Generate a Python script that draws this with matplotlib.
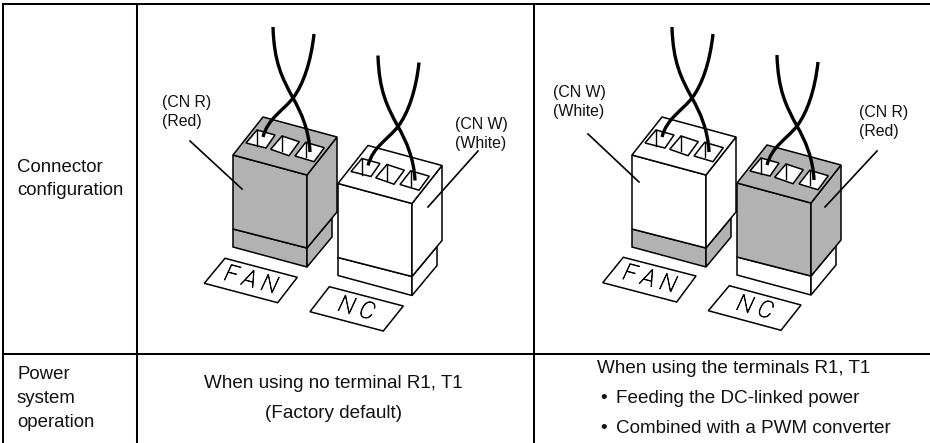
import matplotlib
matplotlib.use('Agg')
import matplotlib.pyplot as plt
import matplotlib.patheffects as pe
from matplotlib.patches import Polygon, PathPatch
from matplotlib.path import Path

GREY = '#b2b2b2'
WHITE = '#ffffff'
FONT = 'Liberation Sans'

# table grid, in pixels of the reference
grid_x = [3, 137, 534]
grid_top = 4
grid_mid = 354
grid_bottom = 443
grid_right = 930

# one connector, drawn for the left red one
top_face = [(263, 117), (337, 137), (307, 175), (233, 155)]
upper_front = [(233, 155), (307, 175), (307, 248), (233, 229)]
upper_side = [(307, 175), (337, 137), (337, 212), (307, 248)]
lower_front = [(233, 229), (307, 248), (307, 267), (233, 247)]
lower_side = [(307, 248), (332, 218), (332, 237), (307, 267)]
slots = [
    [(257, 130), (275, 135), (266, 148), (246, 143)],
    [(282, 136), (299.3, 141.7), (289, 155.7), (270.7, 149.3)],
    [(305.7, 142.3), (324.3, 147.7), (314, 161.7), (295, 156)],
]
slot_ticks = [
    [(257, 130), (257, 146)],
    [(282, 136), (282, 151)],
    [(305.7, 142.3), (305.7, 157)],
]
wire_a = [(273, 27), (274, 62), (282, 78), (293, 98), (301, 112), (309, 130), (310, 152)]
wire_b = [(314, 34), (311, 62), (303, 85), (293, 98), (283, 111), (268, 118), (263, 137)]

# offset and colours (upper, lower) of the four connectors
conn_dx = [0, 105, 399, 504]
conn_dy = [0, 28.5, 0, 28]
conn_upper = [GREY, WHITE, WHITE, GREY]
conn_lower = [GREY, WHITE, GREY, WHITE]

# printed plates
plates = [
    [(225, 258.3), (297.3, 277.3), (277.7, 302.7), (204.3, 283.3)],
    [(329.3, 286.7), (403.3, 306), (383.3, 331), (310, 311.7)],
    [(623.3, 257.3), (696, 276), (676.7, 302), (602.7, 282.7)],
    [(729.3, 285.7), (801, 305), (781, 330.3), (708.3, 310.7)],
]
plate_text = ['F A N', 'N C', 'F A N', 'N C']

# leader lines from the labels to the connectors
leaders = [
    [(190, 141), (242, 189)],
    [(478, 151), (428, 207)],
    [(588, 134), (639, 182)],
    [(877, 151), (825, 207)],
]

fig = plt.figure(figsize=(9.3, 4.43), dpi=100)
ax = fig.add_axes([0, 0, 1, 1])
ax.set_xlim(0, 930)
ax.set_ylim(443, 0)
ax.axis('off')


def shift(pts, dx, dy):
    return [(x + dx, y + dy) for x, y in pts]


def draw_wire(pts, dx, dy):
    pts = shift(pts, dx, dy)
    codes = [Path.MOVETO] + [Path.CURVE4] * (len(pts) - 1)
    ax.add_patch(PathPatch(Path(pts, codes), fc='none', ec='black', lw=2.4, capstyle='butt', zorder=5))


def draw_connector(dx, dy, upper, lower):
    for shape, col in [(lower_front, lower), (lower_side, lower), (upper_front, upper),
                       (upper_side, upper), (top_face, upper)]:
        ax.add_patch(Polygon(shift(shape, dx, dy), fc=col, ec='black', lw=1.1, joinstyle='miter', zorder=3))
    for s in slots:
        ax.add_patch(Polygon(shift(s, dx, dy), fc=WHITE, ec='black', lw=1.1, zorder=4))
    for t in slot_ticks:
        p = shift(t, dx, dy)
        ax.plot([p[0][0], p[1][0]], [p[0][1], p[1][1]], color='black', lw=1.0, zorder=4)
    draw_wire(wire_a, dx, dy)
    draw_wire(wire_b, dx, dy)


for i in range(4):
    draw_connector(conn_dx[i], conn_dy[i], conn_upper[i], conn_lower[i])

for i, plate in enumerate(plates):
    ax.add_patch(Polygon(plate, fc='none', ec='black', lw=1.1, zorder=3))
    cx = sum(p[0] for p in plate) / 4
    cy = sum(p[1] for p in plate) / 4
    t = ax.text(cx, cy, plate_text[i], family='Roboto', weight='light', style='italic', fontsize=17,
                rotation=-15, rotation_mode='anchor', ha='center', va='center', color='black')
    t.set_path_effects([pe.withStroke(linewidth=0.5, foreground='black')])

for l in leaders:
    ax.plot([l[0][0], l[1][0]], [l[0][1], l[1][1]], color='black', lw=1.2, zorder=6)

# grid
for x in grid_x:
    ax.plot([x, x], [grid_top, grid_bottom], color='black', lw=1.45, zorder=7, solid_capstyle='butt')
ax.plot([grid_x[0], grid_right], [grid_top, grid_top], color='black', lw=1.45, zorder=7, solid_capstyle='projecting')
ax.plot([grid_x[0], grid_right], [grid_mid, grid_mid], color='black', lw=1.45, zorder=7, solid_capstyle='butt')


# texts
def label(x, y, s, size=13.4, ha='left'):
    ax.text(x, y, s, family=FONT, fontsize=size, ha=ha, va='baseline', color='#111111')


label(162, 107, '(CN R)', 11.4)
label(162, 126, '(Red)', 11.4)
label(455, 129, '(CN W)', 11.4)
label(455, 148, '(White)', 11.4)
label(553, 97, '(CN W)', 11.4)
label(553, 116, '(White)', 11.4)
label(859, 117, '(CN R)', 11.4)
label(859, 136, '(Red)', 11.4)

label(17, 172, 'Connector')
label(17, 195, 'configuration')
label(17, 379, 'Power')
label(17, 403, 'system')
label(17, 427, 'operation')

label(333.5, 388, 'When using no terminal R1, T1', 13.6, ha='center')
label(333.5, 418, '(Factory default)', 13.6, ha='center')
label(597, 373, 'When using the terminals R1, T1', 13.6)
label(600, 403, '•', 13.6)
label(616, 403, 'Feeding the DC-linked power', 13.6)
label(600, 433, '•', 13.6)
label(616, 433, 'Combined with a PWM converter', 13.6)

fig.savefig('out.png', dpi=100)
